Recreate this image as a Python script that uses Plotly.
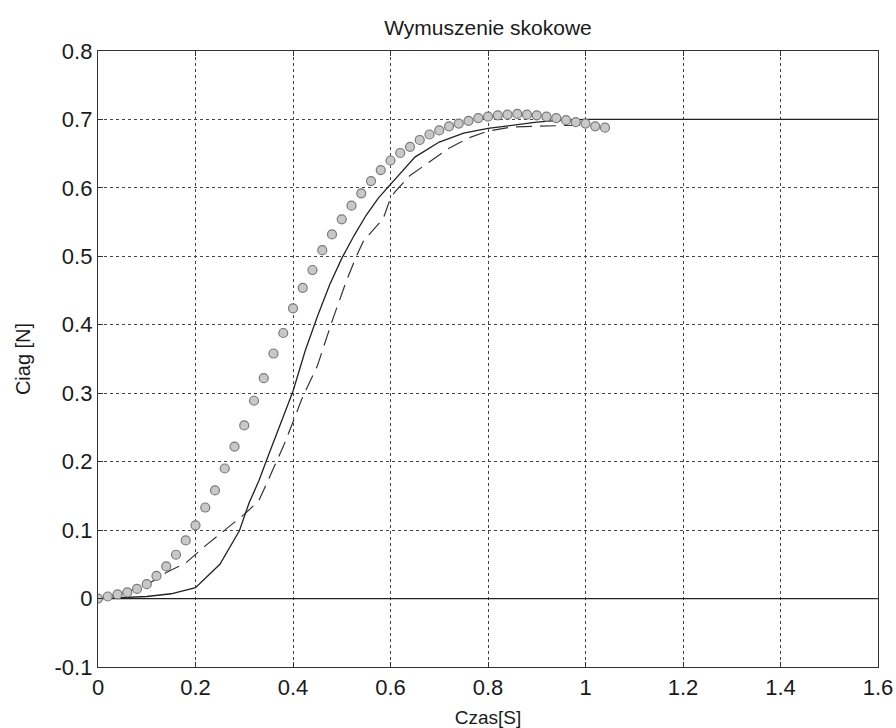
import plotly.graph_objects as go

# Measured data (circles)
t_meas = [0.00, 0.02, 0.04, 0.06, 0.08, 0.10, 0.12, 0.14, 0.16, 0.18,
          0.20, 0.22, 0.24, 0.26, 0.28, 0.30, 0.32, 0.34, 0.36, 0.38,
          0.40, 0.42, 0.44, 0.46, 0.48, 0.50, 0.52, 0.54, 0.56, 0.58,
          0.60, 0.62, 0.64, 0.66, 0.68, 0.70, 0.72, 0.74, 0.76, 0.78,
          0.80, 0.82, 0.84, 0.86, 0.88, 0.90, 0.92, 0.94, 0.96, 0.98,
          1.00, 1.02, 1.04]
f_meas = [0.000, 0.003, 0.006, 0.009, 0.014, 0.021, 0.033, 0.047, 0.064, 0.085,
          0.107, 0.133, 0.158, 0.190, 0.222, 0.253, 0.289, 0.322, 0.358, 0.388,
          0.424, 0.454, 0.480, 0.509, 0.532, 0.554, 0.574, 0.592, 0.610, 0.626,
          0.640, 0.651, 0.660, 0.670, 0.678, 0.684, 0.690, 0.694, 0.698, 0.702,
          0.704, 0.706, 0.707, 0.708, 0.707, 0.706, 0.704, 0.702, 0.699, 0.696,
          0.694, 0.690, 0.688]

# Model response (solid)
t_model = [0.00, 0.05, 0.10, 0.15, 0.20, 0.25, 0.29, 0.31, 0.33, 0.35,
           0.375, 0.40, 0.425, 0.45, 0.475, 0.50, 0.525, 0.55, 0.575, 0.60,
           0.625, 0.65, 0.70, 0.75, 0.80, 0.85, 0.90, 0.95, 1.00, 1.60]
f_model = [0.000, 0.001, 0.003, 0.007, 0.016, 0.050, 0.099, 0.140, 0.172, 0.210,
           0.255, 0.303, 0.362, 0.412, 0.458, 0.497, 0.530, 0.560, 0.585, 0.605,
           0.625, 0.645, 0.667, 0.680, 0.687, 0.692, 0.696, 0.699, 0.700, 0.700]

# Second model (dashed)
t_model2 = [0.00, 0.05, 0.10, 0.14, 0.18, 0.20, 0.22, 0.26, 0.30, 0.33,
            0.36, 0.38, 0.40, 0.42, 0.45, 0.48, 0.51, 0.53, 0.545, 0.56,
            0.585, 0.60, 0.61, 0.64, 0.68, 0.72, 0.76, 0.80, 0.85, 0.90,
            0.95, 1.00]
f_model2 = [0.000, 0.008, 0.020, 0.038, 0.052, 0.065, 0.077, 0.100, 0.123, 0.143,
            0.192, 0.222, 0.258, 0.295, 0.340, 0.405, 0.465, 0.500, 0.523, 0.535,
            0.555, 0.585, 0.595, 0.618, 0.638, 0.658, 0.673, 0.683, 0.689, 0.690,
            0.690, 0.692]

# Zero reference line
t_zero = [0.0, 1.6]
f_zero = [0.0, 0.0]

x_ticks = [0, 0.2, 0.4, 0.6, 0.8, 1.0, 1.2, 1.4, 1.6]
x_tick_text = ["0", "0.2", "0.4", "0.6", "0.8", "1", "1.2", "1.4", "1.6"]
y_ticks = [-0.1, 0, 0.1, 0.2, 0.3, 0.4, 0.5, 0.6, 0.7, 0.8]
y_tick_text = ["-0.1", "0", "0.1", "0.2", "0.3", "0.4", "0.5", "0.6", "0.7", "0.8"]

FONT = "Liberation Sans, Arial, sans-serif"

fig = go.Figure()
fig.add_trace(go.Scatter(x=t_zero, y=f_zero, mode="lines",
                         line=dict(color="#222222", width=1.3), showlegend=False))
fig.add_trace(go.Scatter(x=t_model2, y=f_model2, mode="lines",
                         line=dict(color="#333333", width=1.2, dash="16px,8px"),
                         showlegend=False))
fig.add_trace(go.Scatter(x=t_model, y=f_model, mode="lines",
                         line=dict(color="#222222", width=1.3), showlegend=False))
fig.add_trace(go.Scatter(x=t_meas, y=f_meas, mode="markers",
                         marker=dict(symbol="circle", size=9, color="#c8c8c8",
                                     line=dict(color="#7a7a7a", width=1.2)),
                         showlegend=False))

axis_common = dict(
    showline=True, linecolor="#333333", linewidth=1.3, mirror="ticks",
    ticks="inside", ticklen=5, tickcolor="#333333",
    showgrid=True, gridcolor="#444444", gridwidth=1, griddash="dot",
    zeroline=False, automargin=False,
    tickfont=dict(family=FONT, size=22, color="#1a1a1a"),
)

fig.update_layout(
    width=896, height=728,
    margin=dict(l=98, r=18, t=51, b=61),
    paper_bgcolor="white", plot_bgcolor="white",
    title=dict(text="Wymuszenie skokowe", x=0.5, xref="paper", xanchor="center",
               y=1 - 28 / 728, yref="container", yanchor="middle",
               font=dict(family=FONT, size=21, color="#1a1a1a")),
    xaxis=dict(range=[0, 1.6], tickvals=x_ticks, ticktext=x_tick_text,
               title=dict(text="Czas[S]", standoff=14,
                          font=dict(family=FONT, size=19, color="#1a1a1a")),
               **axis_common),
    yaxis=dict(range=[-0.1, 0.8], tickvals=y_ticks, ticktext=y_tick_text,
               title=dict(text="Ciag [N]", standoff=18,
                          font=dict(family=FONT, size=20, color="#1a1a1a")),
               **axis_common),
)

fig.write_html("out.html")
